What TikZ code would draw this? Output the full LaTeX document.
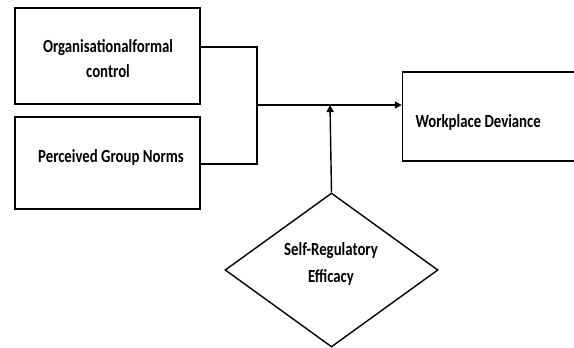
\documentclass[tikz,border=0pt]{standalone}
\usepackage{fontspec}
\setmainfont{Carlito}
\newfontfamily\lblfont[FakeStretch=0.8]{Carlito}
\usetikzlibrary{arrows.meta,shapes.geometric}
\begin{document}
\begin{tikzpicture}[x=1pt,y=-1pt,
  box/.style={draw,line width=1.5pt,inner sep=0pt},
  lbl/.style={font=\lblfont\bfseries\fontsize{18.5}{25}\selectfont,align=center},
  conn/.style={line width=1.4pt},
  arr/.style={conn,-{Triangle[length=7pt,width=7pt]}}]
\useasboundingbox (0,0) rectangle (574,348);
% boxes
\node[box,minimum width=185pt,minimum height=96pt] (oc) at (107.5,56) {};
\node[lbl] (oct) at (108,59) {Organisationalformal\\control};
\node[box,minimum width=185pt,minimum height=92pt] (pg) at (107.5,163) {};
\node[lbl] (pgt) at (111,157) {Perceived Group Norms};
\node[box,minimum width=175pt,minimum height=89pt] (wd) at (490,116.5) {};
\node[lbl,anchor=west] (wdt) at (412,122) {Workplace Deviance};
\node[draw,diamond,line width=1.4pt,minimum width=213pt,minimum height=154pt,inner sep=0pt] (se) at (331.5,270) {};
\node[lbl,font=\lblfont\bfseries\fontsize{18.5}{27}\selectfont] (set) at (331,264) {Self-Regulatory\\Efficacy};
% connectors
\coordinate (j) at (257,105);
\coordinate (m) at (330,105);
\draw[conn] (oc.east |- 0,47) -- (257,47) -- (257,164) -- (pg.east |- 0,164);
\draw[arr] (j) -- (wd.west |- j);
\draw[arr] (se.north) -- (m);
\end{tikzpicture}
\end{document}
